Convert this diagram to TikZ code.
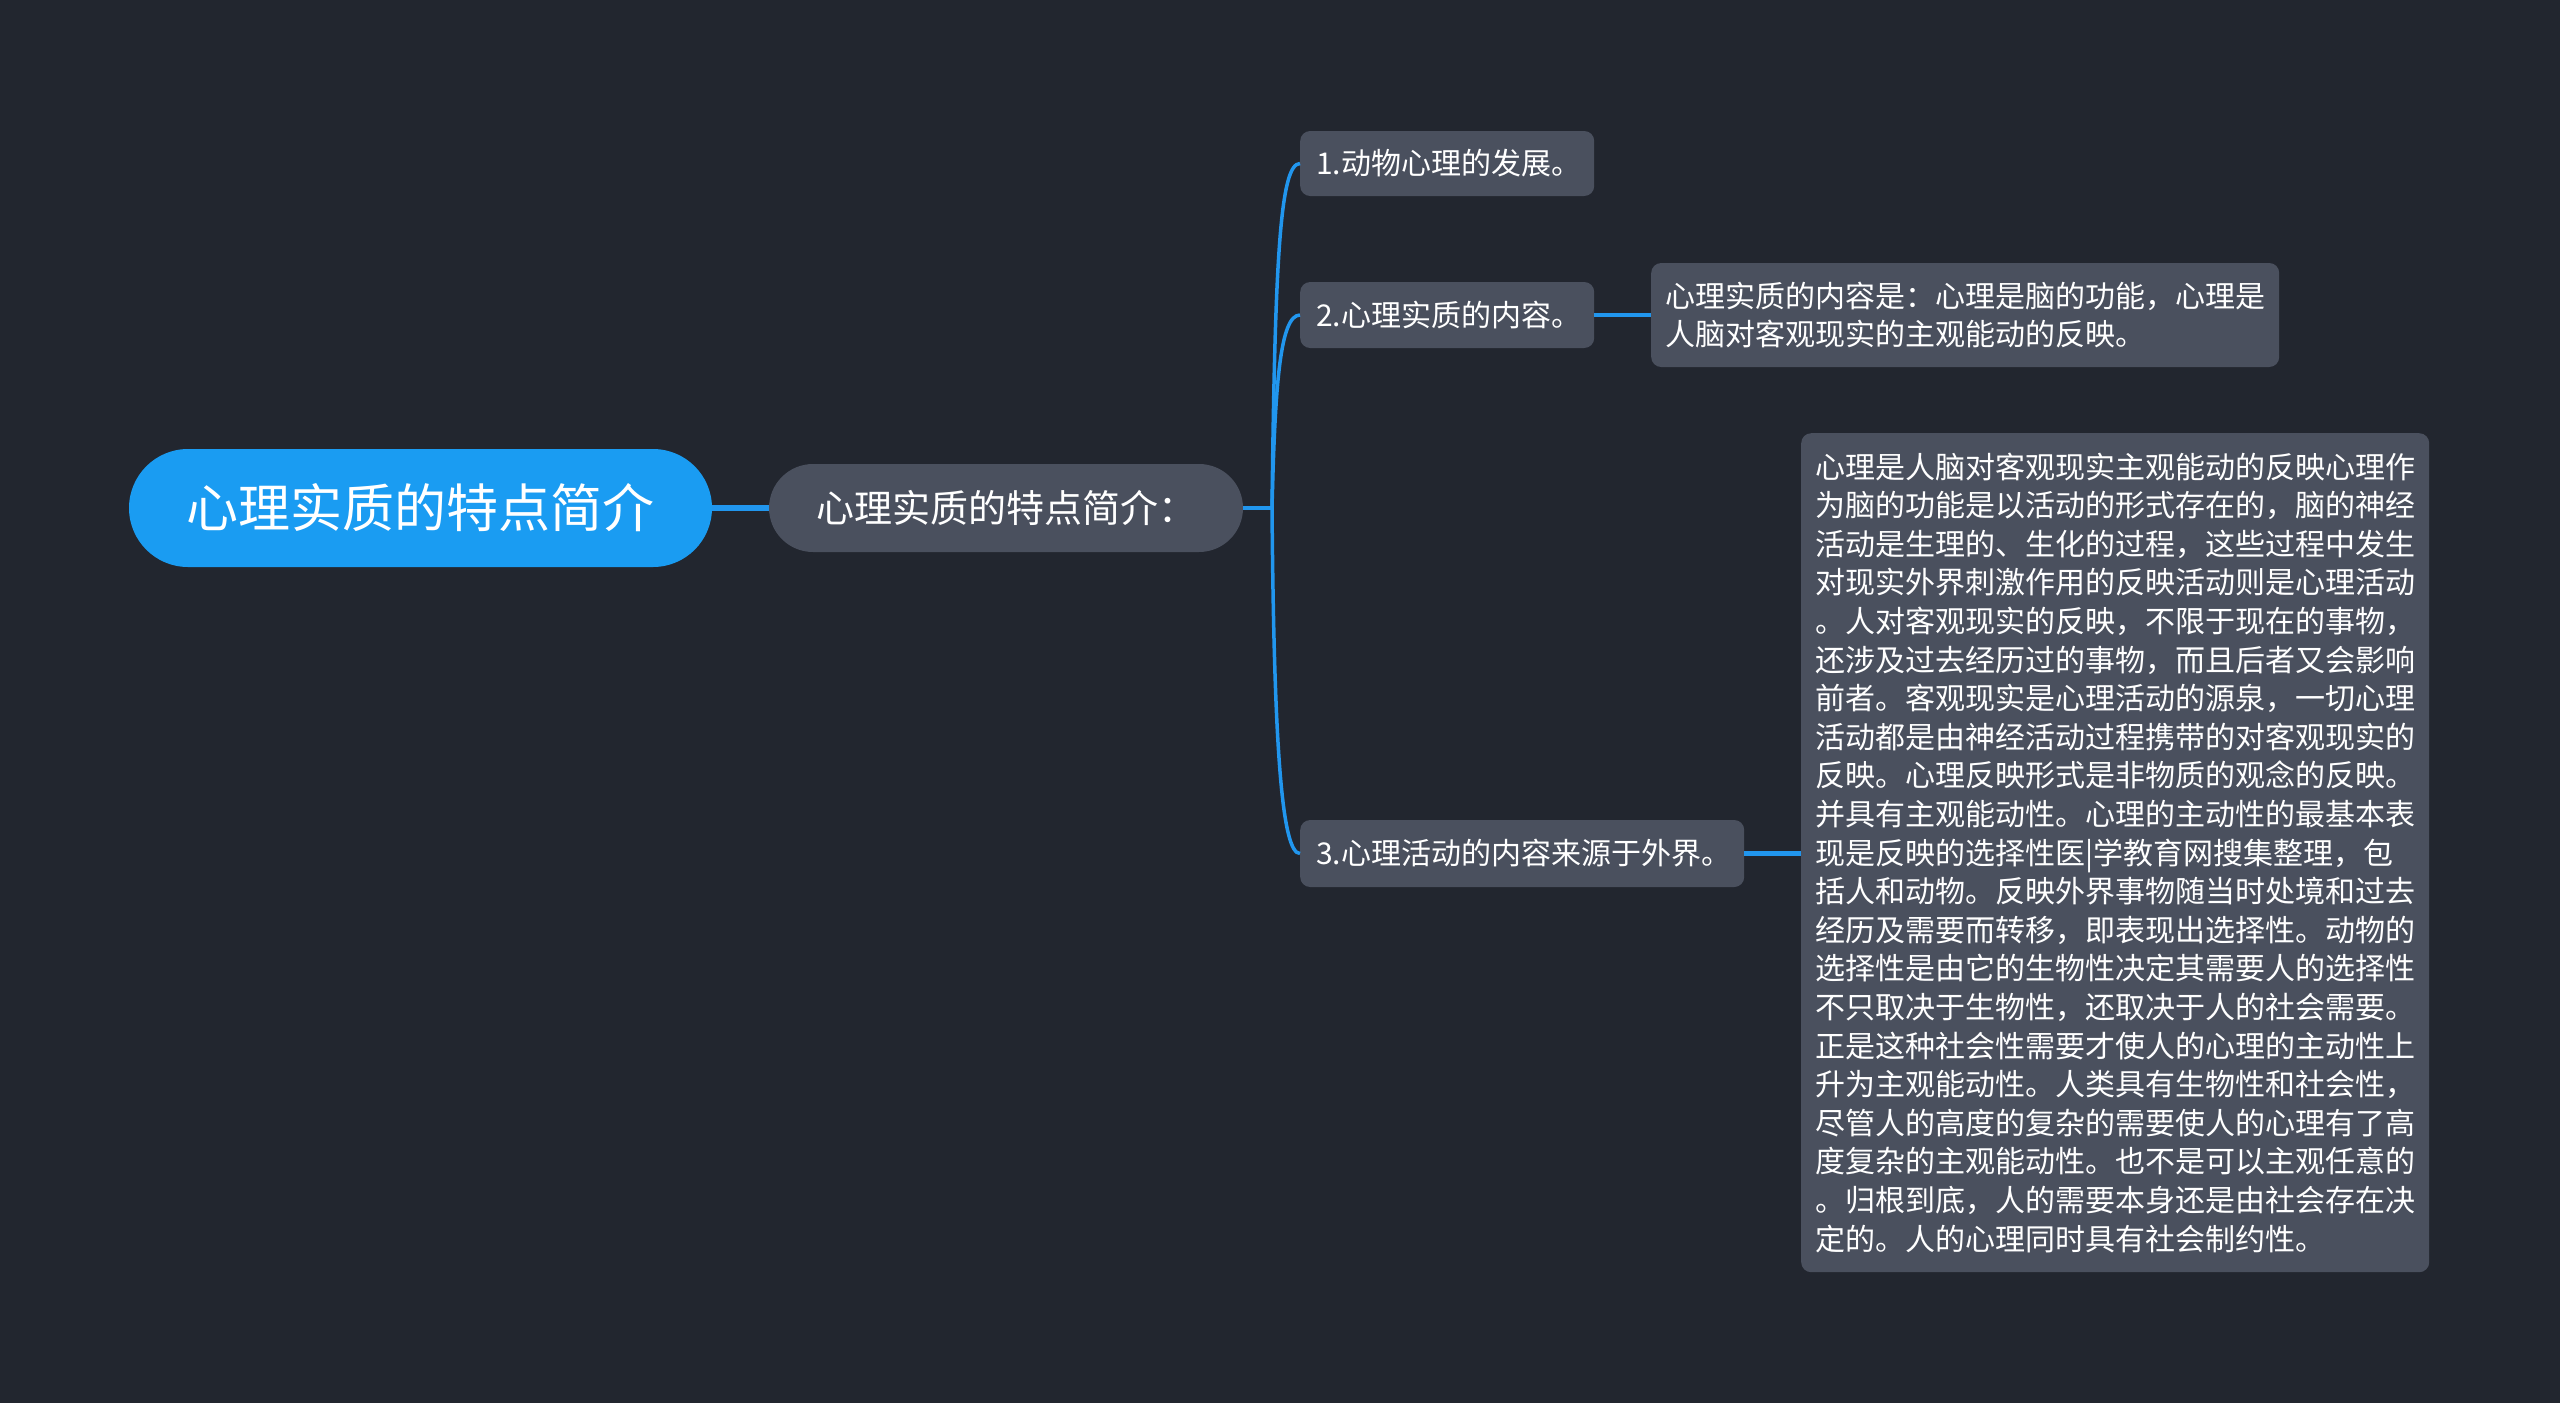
\documentclass[tikz,border=0pt]{standalone}
\usepackage{fontspec}
\setmainfont{Noto Sans CJK SC}
\definecolor{bg}{HTML}{22262F}
\definecolor{nodegray}{HTML}{4A505E}
\definecolor{rootblue}{HTML}{1A9CF2}
\definecolor{linkblue}{HTML}{2196EE}
\tikzset{
  rootbox/.style={fill=rootblue, rounded corners=59pt, text=white, inner sep=0pt, font=\fontsize{52}{60}\selectfont},
  midbox/.style={fill=nodegray, rounded corners=44pt, text=white, inner sep=0pt, font=\fontsize{38}{44}\selectfont},
  subbox/.style={fill=nodegray, rounded corners=10pt, text=white, inner xsep=16pt, inner ysep=0pt, align=left, font=\fontsize{30}{38}\selectfont},
  leafbox/.style={fill=nodegray, rounded corners=10pt, text=white, inner xsep=14pt, inner ysep=0pt, align=left, text width=600pt, font=\fontsize{30}{38.6}\selectfont},
  conn/.style={draw=linkblue, line width=3.5pt}
}
\begin{document}
\begin{tikzpicture}[x=1pt,y=-1pt]
\fill[bg] (0,0) rectangle (2560,1403);
\useasboundingbox (0,0) rectangle (2560,1403);

\node[rootbox, minimum width=583pt, minimum height=118pt] (root) at (420.5,508) {心理实质的特点简介};
\node[midbox, minimum width=474pt, minimum height=88pt] (mid) at (1006,508) {心理实质的特点简介：};

\node[subbox, anchor=west, text width=262pt, minimum height=65pt] (c1) at (1300,163.5) {1.动物心理的发展。};
\node[subbox, anchor=west, text width=262pt, minimum height=66pt] (c2) at (1300,315) {2.心理实质的内容。};
\node[subbox, anchor=west, text width=412pt, minimum height=67pt] (c3) at (1300,853.5) {3.心理活动的内容来源于外界。};

\node[leafbox, anchor=west, minimum height=104pt] (l2) at (1651,315) {心理实质的内容是：心理是脑的功能，心理是\\人脑对客观现实的主观能动的反映。};

\node[leafbox, anchor=north west, minimum height=839pt] (l3) at (1801,433) {心理是人脑对客观现实主观能动的反映心理作\\
为脑的功能是以活动的形式存在的，脑的神经\\
活动是生理的、生化的过程，这些过程中发生\\
对现实外界刺激作用的反映活动则是心理活动\\
。人对客观现实的反映，不限于现在的事物，\\
还涉及过去经历过的事物，而且后者又会影响\\
前者。客观现实是心理活动的源泉，一切心理\\
活动都是由神经活动过程携带的对客观现实的\\
反映。心理反映形式是非物质的观念的反映。\\
并具有主观能动性。心理的主动性的最基本表\\
现是反映的选择性医|学教育网搜集整理，包\\
括人和动物。反映外界事物随当时处境和过去\\
经历及需要而转移，即表现出选择性。动物的\\
选择性是由它的生物性决定其需要人的选择性\\
不只取决于生物性，还取决于人的社会需要。\\
正是这种社会性需要才使人的心理的主动性上\\
升为主观能动性。人类具有生物性和社会性，\\
尽管人的高度的复杂的需要使人的心理有了高\\
度复杂的主观能动性。也不是可以主观任意的\\
。归根到底，人的需要本身还是由社会存在决\\
定的。人的心理同时具有社会制约性。};

\draw[conn, line width=5.5pt] (root.east) -- (mid.west);
\coordinate (hub) at (1272,508);
\draw[conn] (mid.east) -- (hub);
\draw[conn] (hub) .. controls (1275,260) and (1280,163.5) .. (c1.west);
\draw[conn] (hub) .. controls (1275,385) and (1280,315) .. (c2.west);
\draw[conn] (hub) .. controls (1274,750) and (1282,853.5) .. (c3.west);
\draw[conn, line width=4.5pt] (c2.east) -- (l2.west);
\draw[conn, line width=4.5pt] (c3.east) -- (c3.east -| l3.west);
\end{tikzpicture}
\end{document}
